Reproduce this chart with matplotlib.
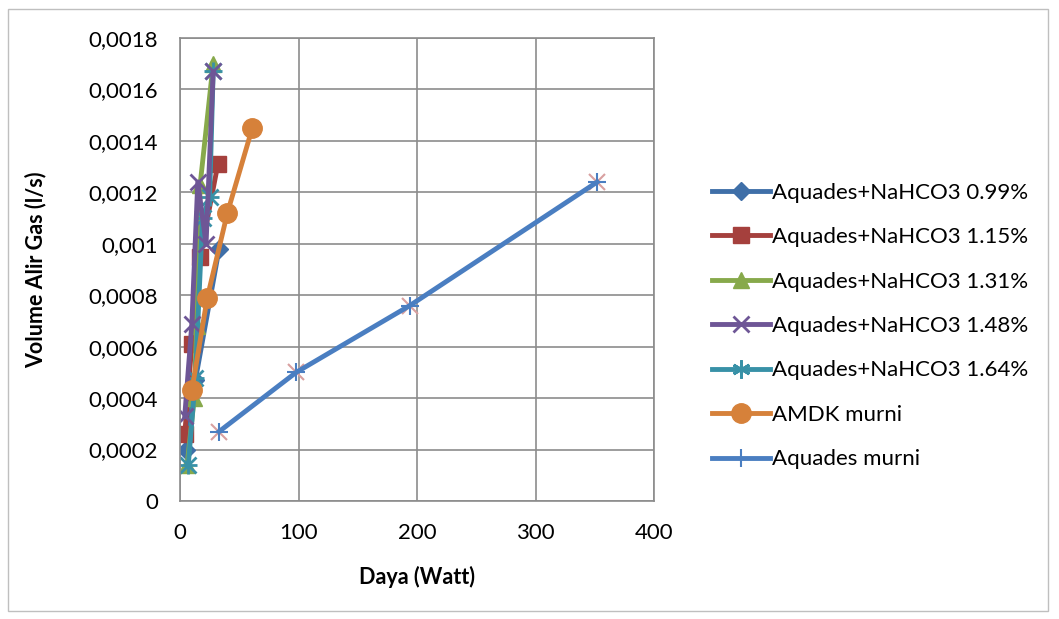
import numpy as np
import matplotlib.pyplot as plt
from matplotlib.patches import Rectangle
from matplotlib.lines import Line2D

plt.rcParams['font.family'] = ['Lato', 'DejaVu Sans']

# data (Daya in Watt, Volume Alir Gas in l/s)
x_099 = [5, 13, 33]
y_099 = [0.00020, 0.00047, 0.00098]
x_115 = [4, 10, 17, 32]
y_115 = [0.00026, 0.00061, 0.00095, 0.00131]
x_131 = [6, 12, 14, 17, 28]
y_131 = [0.00014, 0.00040, 0.00068, 0.00123, 0.00170]
x_148 = [4, 10, 15, 22, 28]
y_148 = [0.00033, 0.00069, 0.00124, 0.00100, 0.00167]
x_164 = [7, 13, 19, 25, 28]
y_164 = [0.00014, 0.00048, 0.00110, 0.00118, 0.00167]
x_amdk = [10, 23, 40, 61]
y_amdk = [0.00043, 0.00079, 0.00112, 0.00145]
x_aq = [33, 98, 194, 352]
y_aq = [0.00027, 0.00050, 0.00076, 0.00124]

labels = ['Aquades+NaHCO3 0.99%', 'Aquades+NaHCO3 1.15%', 'Aquades+NaHCO3 1.31%',
          'Aquades+NaHCO3 1.48%', 'Aquades+NaHCO3 1.64%', 'AMDK murni', 'Aquades murni']
yticks = [0, 0.0002, 0.0004, 0.0006, 0.0008, 0.001, 0.0012, 0.0014, 0.0016, 0.0018]
ytick_labels = ['0', '0,0002', '0,0004', '0,0006', '0,0008', '0,001', '0,0012',
                '0,0014', '0,0016', '0,0018']

fig = plt.figure(figsize=(10.59, 6.19), dpi=100)
ax = fig.add_axes([180 / 1059, 1 - 501 / 619, 474 / 1059, 463 / 619])

lw = 3.5
ax.plot(x_099, y_099, color='#3F6FA8', lw=lw, marker='D', ms=9, label=labels[0])
ax.plot(x_115, y_115, color='#A5403D', lw=lw, marker='s', ms=11, label=labels[1])
ax.plot(x_131, y_131, color='#87A94B', lw=lw, marker='^', ms=11, label=labels[2])
ax.plot(x_164, y_164, color='#3891A7', lw=lw, ms=0, label=labels[4])
ax.plot(x_164, y_164, ls='none', color='#3891A7', marker='x', ms=11, mew=2)
ax.plot(x_164, y_164, ls='none', color='#3891A7', marker='+', ms=13, mew=2)
ax.plot(x_148, y_148, color='#6E5696', lw=lw, marker='x', ms=11, mew=2, label=labels[3])
ax.plot(x_amdk, y_amdk, color='#D6813A', lw=lw, marker='o', ms=14, label=labels[5])
ax.plot(x_aq, y_aq, ls='none', color='#D8A0A0', marker='x', ms=11, mew=1.5)
ax.plot(x_aq, y_aq, color='#4A7EC1', lw=lw, marker='+', ms=13, mew=1.5, label=labels[6])

ax.set_xlim(0, 400)
ax.set_ylim(0, 0.0018)
ax.set_xticks([0, 100, 200, 300, 400])
ax.set_yticks(yticks)
ax.set_yticklabels(ytick_labels)
ax.grid(True, color='#8C8C8C', lw=1.2)
ax.set_axisbelow(True)
for s in ax.spines.values():
    s.set_color('#8C8C8C')
    s.set_linewidth(1.2)
ax.tick_params(axis='x', labelsize=16, length=0, pad=16)
ax.tick_params(axis='y', labelsize=16, length=0, pad=16)
ax.set_xlabel('Daya (Watt)', fontsize=15.5, fontweight='bold', labelpad=16)
ax.set_ylabel('Volume Alir Gas (l/s)', fontsize=15.5, fontweight='bold', labelpad=30)

handles = [
    Line2D([], [], color='#3F6FA8', lw=lw, marker='D', ms=9),
    Line2D([], [], color='#A5403D', lw=lw, marker='s', ms=11),
    Line2D([], [], color='#87A94B', lw=lw, marker='^', ms=11),
    Line2D([], [], color='#6E5696', lw=lw, marker='x', ms=11, mew=2),
    Line2D([], [], color='#3891A7', lw=lw, marker=(6, 2, 0), ms=13, mew=2),
    Line2D([], [], color='#D6813A', lw=lw, marker='o', ms=14),
    Line2D([], [], color='#4A7EC1', lw=lw, marker='+', ms=13, mew=1.5),
]
fig.legend(handles, labels, loc='center left', bbox_to_anchor=(692 / 1059, 1 - 326 / 619),
           frameon=False, fontsize=16, handlelength=2.6, labelspacing=1.1,
           handletextpad=0.1)

fig.patches.append(Rectangle((8 / 1059, 8 / 619), 1040 / 1059, 602 / 619, fill=False,
                             edgecolor='#BFBFBF', lw=1, transform=fig.transFigure))

fig.savefig('out.png', dpi=100)
